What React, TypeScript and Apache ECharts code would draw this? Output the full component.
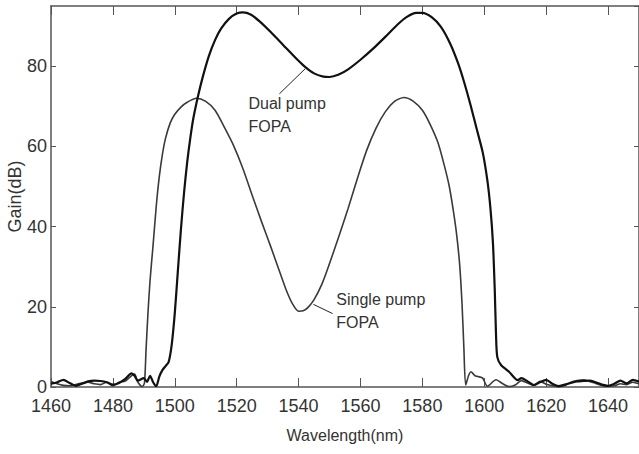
import React, { useEffect, useRef } from "react";
import * as echarts from "echarts";

const dualX = [1460,1462,1464,1466,1468,1470,1472,1474,1476,1478,1480,1482,1484,1486,1487,1488,1490,1491,1492,1493,1494,1495,1496,1497,1498,1499,1500,1501,1502,1503,1504,1505,1506,1507.5,1509,1511,1513,1515,1517.5,1520,1522,1524.5,1527.5,1531,1535,1539,1542,1545,1548,1550,1553,1556,1560,1564,1568,1572,1575,1578,1580,1583,1586,1589,1591.5,1593.5,1595.5,1597.5,1599.5,1601,1602,1602.8,1603.4,1603.8,1604.2,1605.4,1608,1610.8,1612,1614,1616,1618,1620,1622,1624,1626,1628,1630,1632,1634,1636,1638,1640,1642,1644,1646,1648,1650];
const dualY = [0.8,1.2,1.8,1.0,0.3,0.8,1.4,1.6,1.5,1.2,0.6,1.0,2.0,3.4,2.8,1.6,2.2,1.3,2.8,1.2,0.2,2.6,4.2,5.2,6.2,10.5,18.4,29,39.5,48.5,56,62,67,72.5,77.2,82.5,86.5,89.4,91.8,93.1,93.4,92.9,91.1,88.5,85.3,82.1,79.9,78.2,77.4,77.3,77.9,79.2,81.6,84.3,87.3,90.4,92.3,93.3,93.3,92.2,89.8,85.6,80.8,76,70.5,64.5,58.5,51.5,44.5,36,24,13,7.5,5.5,3.8,1.7,2.2,1.4,0.5,1.2,1.8,0.8,0.2,0.6,1.0,1.4,1.5,1.6,1.2,0.6,0.3,0.8,1.6,0.9,1.8,1.3];

const singleX = [1460,1462,1464,1466,1468,1470,1472,1474,1476,1478,1480,1482,1484,1486,1487,1488,1489.5,1490.2,1490.7,1491.3,1492,1493,1494,1495,1496,1497,1498.5,1500,1502,1504,1507,1510,1513,1516,1519,1522,1525,1528,1531,1534,1536,1538,1540,1541.5,1543,1545,1547.5,1550,1553,1556,1559,1562,1565,1568,1571,1574,1577,1580,1582.5,1585,1587,1588.7,1590,1591,1592,1592.8,1593.4,1594,1595,1595.7,1597,1598,1599.5,1601,1603.8,1606,1608,1610,1612,1614,1616,1618,1620,1622,1624,1626,1628,1630,1632,1634,1636,1638,1640,1642,1644,1646,1648,1650];
const singleY = [1.4,0.8,0.4,0.3,0.6,1.0,1.2,0.8,0.6,1.2,0.3,1.2,1.5,2.8,3.2,1.3,0.1,1,9,18,26.5,35.5,45,52.5,58,62,65.8,68,69.8,71,72,71.2,69,64.8,60.2,54.5,47.8,41.3,35,28.5,24.2,20.8,18.9,19.0,19.8,21.8,25.6,30.8,37.5,44.5,52,59,64.5,68.6,71.2,72.2,71.3,69,65.5,61,55.5,50,44,38.5,31,21,10,0.5,3,3.8,2.8,2.6,2.2,0.2,1.8,0.8,0.1,0.5,1.6,1.0,0.4,1.4,0.7,0.3,0.1,0.4,1.2,1.6,1.8,1.4,0.9,0.4,0.2,0.3,0.8,0.6,1.2,0.8];

const xTicksMin = 1460;
const xTicksMax = 1650;
const xTickStep = 20;
const yMin = 0;
const yMax = 95;
const yTickStep = 20;

const FONT = "'Liberation Sans', Arial, sans-serif";
const TEXT = "#333";
const AXIS = "#555";

export default function App() {
  const ref = useRef<HTMLDivElement>(null);
  useEffect(() => {
    if (!ref.current) return;
    const chart = echarts.init(ref.current, undefined, { renderer: "svg" });
    const pairs = (xs: number[], ys: number[]) => xs.map((x, i) => [x, ys[i]]);
    const plain = (v: number) => String(v);
    const xCommon = {
      type: "value" as const,
      min: xTicksMin,
      max: xTicksMax,
      interval: xTickStep,
      splitLine: { show: false },
      axisLine: { show: true, onZero: false, lineStyle: { color: AXIS, width: 1.5 } },
      axisTick: { show: true, inside: true, length: 9, lineStyle: { color: AXIS, width: 1 } },
    };
    const yCommon = {
      type: "value" as const,
      min: yMin,
      max: yMax,
      interval: yTickStep,
      splitLine: { show: false },
      axisLine: { show: true, onZero: false, lineStyle: { color: AXIS, width: 1.5 } },
      axisTick: { show: true, inside: true, length: 5, lineStyle: { color: AXIS, width: 1 } },
    };
    const lineCommon = {
      type: "line" as const,
      showSymbol: false,
      symbol: "none",
      smooth: 0.25,
    };
    chart.setOption({
      animation: false,
      backgroundColor: "#fff",
      grid: { left: 51, right: 0, top: 6, bottom: 67, containLabel: false, outerBoundsMode: "none" },
      xAxis: [
        {
          ...xCommon,
          position: "bottom",
          name: "Wavelength(nm)",
          nameLocation: "middle",
          nameGap: 40,
          nameMoveOverlap: false,
          nameTextStyle: { fontFamily: FONT, fontSize: 16, color: TEXT },
          axisLabel: { show: true, showMaxLabel: false, margin: 10, fontFamily: FONT, fontSize: 18, color: TEXT, formatter: plain },
        },
        { ...xCommon, position: "top", axisLabel: { show: false } },
      ],
      yAxis: [
        {
          ...yCommon,
          position: "left",
          name: "Gain(dB)",
          nameLocation: "middle",
          nameGap: 27,
          nameMoveOverlap: false,
          nameTextStyle: { fontFamily: FONT, fontSize: 18, color: TEXT },
          axisLabel: { show: true, showMaxLabel: false, margin: 4, fontFamily: FONT, fontSize: 18, color: TEXT, formatter: plain },
        },
        { ...yCommon, position: "right", axisLabel: { show: false } },
      ],
      series: [
        {
          ...lineCommon,
          name: "Single pump FOPA",
          data: pairs(singleX, singleY),
          lineStyle: { color: "#3a3a3a", width: 1.6 },
          markLine: {
            silent: true,
            symbol: ["none", "arrow"],
            symbolSize: [0, 11],
            label: { show: false },
            lineStyle: { color: "#222", width: 1, type: "solid" },
            data: [[{ coord: [1551, 18.3] }, { coord: [1544.8, 20.6] }]],
          },
          markPoint: {
            silent: true,
            symbol: "circle",
            symbolSize: 0,
            data: [
              {
                coord: [1552.2, 24.6],
                label: {
                  show: true,
                  position: [0, 0],
                  align: "left",
                  verticalAlign: "top",
                  formatter: "Single pump\nFOPA",
                  fontFamily: FONT,
                  fontSize: 16,
                  lineHeight: 23,
                  color: TEXT,
                },
              },
            ],
          },
        },
        {
          ...lineCommon,
          name: "Dual pump FOPA",
          data: pairs(dualX, dualY),
          lineStyle: { color: "#111", width: 2.2 },
          markLine: {
            silent: true,
            symbol: ["none", "arrow"],
            symbolSize: [0, 12],
            label: { show: false },
            lineStyle: { color: "#222", width: 1, type: "solid" },
            data: [[{ coord: [1533.8, 73.1] }, { coord: [1542.2, 79.4] }]],
          },
          markPoint: {
            silent: true,
            symbol: "circle",
            symbolSize: 0,
            data: [
              {
                coord: [1523.8, 73.6],
                label: {
                  show: true,
                  position: [0, 0],
                  align: "left",
                  verticalAlign: "top",
                  formatter: "Dual pump\nFOPA",
                  fontFamily: FONT,
                  fontSize: 16,
                  lineHeight: 23,
                  color: TEXT,
                },
              },
            ],
          },
        },
      ],
    });
    return () => chart.dispose();
  }, []);
  return <div ref={ref} style={{ width: 639, height: 454, position: "absolute", left: 0, top: 0 }} />;
}
